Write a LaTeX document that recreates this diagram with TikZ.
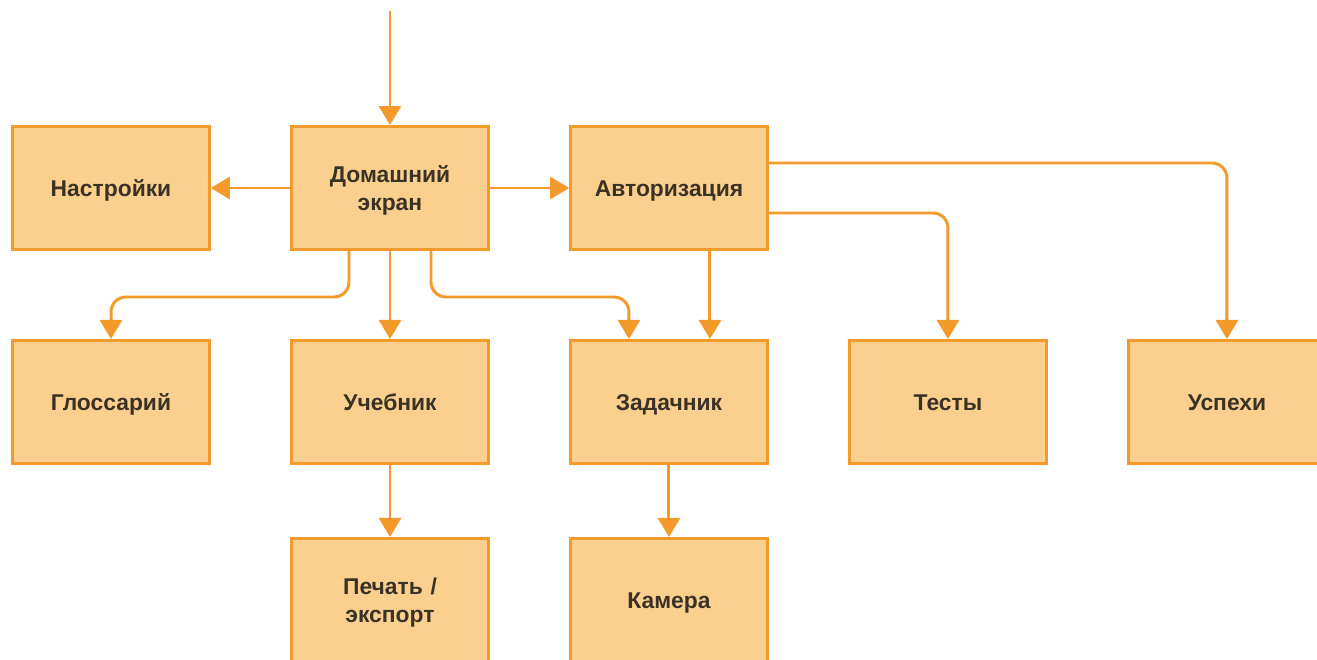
\documentclass[tikz,border=0pt]{standalone}
\usepackage{fontspec}
\setmainfont{Liberation Sans}
\usetikzlibrary{positioning,arrows.meta}
\definecolor{boxfill}{HTML}{FBD08F}
\definecolor{boxline}{HTML}{F39A2B}
\definecolor{boxtext}{HTML}{3B3226}
\begin{document}
\begin{tikzpicture}[node distance={15.9mm}, main/.style = {draw=boxline, fill=boxfill, line width=1.7pt, minimum width=39.3mm, minimum height=24.6mm, text width=36mm, align=center, text=boxtext, font=\bfseries\fontsize{13}{16}\selectfont, execute at begin node=\rule[-3pt]{0pt}{15.4pt}}, link/.style = {draw=boxline, line width=1.7pt, rounded corners=3mm, -{Triangle[width=4.4mm,length=3.8mm]}}]
\useasboundingbox (-7.8,-9.42) rectangle (18.54,3.76);
\node[main] (home) {Домашний\\экран};
\node[main] (settings) [left=of home] {Настройки};
\node[main] (auth) [right=of home] {Авторизация};
\node[main] (gloss) [below=17.6mm of settings] {Глоссарий};
\node[main] (textbook) [below=17.6mm of home] {Учебник};
\node[main] (tasks) [below=17.6mm of auth] {Задачник};
\node[main] (tests) [right=of tasks] {Тесты};
\node[main] (success) [right=of tests] {Успехи};
\node[main] (print) [below=14.4mm of textbook] {Печать /\\экспорт};
\node[main] (camera) [below=14.4mm of tasks] {Камера};
\coordinate (entry) at ([yshift=22.8mm]home.north);
\draw[link] (entry) -- (home);
\draw[link] (home) -- (settings);
\draw[link] (home) -- (auth);
\draw[link] ([xshift=-8.2mm]home.south) -- ++(0,-0.92) -| (gloss.north);
\draw[link] (home) -- (textbook);
\draw[link] ([xshift=8.2mm]home.south) -- ++(0,-0.92) -| ([xshift=-8mm]tasks.north);
\draw[link] ([xshift=8.2mm]auth.south) -- ([xshift=8.2mm]tasks.north);
\draw[link] ([yshift=-5mm]auth.east) -| (tests.north);
\draw[link] ([yshift=5mm]auth.east) -| (success.north);
\draw[link] (textbook) -- (print);
\draw[link] (tasks) -- (camera);
\end{tikzpicture}
\end{document}
